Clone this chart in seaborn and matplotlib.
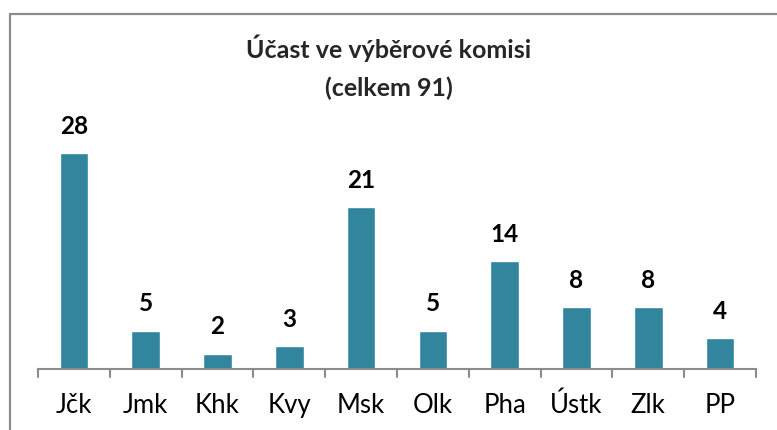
import matplotlib
matplotlib.use("Agg")
import matplotlib.pyplot as plt
import seaborn as sns
import pandas as pd
from matplotlib.patches import Rectangle

regions = ["Jčk", "Jmk", "Khk", "Kvy", "Msk", "Olk", "Pha", "Ústk", "Zlk", "PP"]
counts = [28, 5, 2, 3, 21, 5, 14, 8, 8, 4]
title = "Účast ve výběrové komisi\n(celkem 91)"

sns.set_theme(style="white")
plt.rcParams["font.family"] = ["Lato", "DejaVu Sans"]

W, H = 777, 430
fig = plt.figure(figsize=(W / 100, H / 100), dpi=100)

# axes placed in pixel terms: baseline at y=369, x from 38 to 756
left, right, base, top = 38, 756, 369, 138
ax = fig.add_axes([left / W, (H - base) / H, (right - left) / W, (base - top) / H])

df = pd.DataFrame({"region": regions, "count": counts})
sns.barplot(data=df, x="region", y="count", color="#31859C", saturation=1,
            width=0.4, ax=ax)

ax.set_ylim(0, 30)
ax.set_xlim(-0.5, len(regions) - 0.5)
for i, v in enumerate(counts):
    ax.annotate(str(v), (i, v), xytext=(0, 11), textcoords="offset points",
                ha="center", va="bottom", fontsize=17.5, fontweight="bold",
                color="black")

for s in ["top", "right", "left"]:
    ax.spines[s].set_visible(False)
ax.spines["bottom"].set_color("#8c8c8c")
ax.spines["bottom"].set_linewidth(1.5)
ax.set_yticks([])
ax.set_xlabel("")
ax.set_ylabel("")

# category labels centered, tick marks on category boundaries
ax.set_xticks(range(len(regions)))
ax.set_xticklabels(regions, fontsize=18.5)
ax.tick_params(axis="x", length=0, pad=17, colors="black")
for b in range(len(regions) + 1):
    ax.plot([b - 0.5, b - 0.5], [0, -0.035], transform=ax.get_xaxis_transform(),
            color="#8c8c8c", lw=1.5, clip_on=False)

fig.text(0.5, (H - 67) / H, title, ha="center", va="center", fontsize=18,
         fontweight="bold", linespacing=1.75)

# outer chart frame
fig.add_artist(Rectangle((9.5 / W, -0.1), 1.2, (H - 13.5) / H + 0.1,
                         transform=fig.transFigure, fill=False,
                         edgecolor="#8c8c8c", lw=1.6, clip_on=False))

fig.savefig("out.png", dpi=100)
